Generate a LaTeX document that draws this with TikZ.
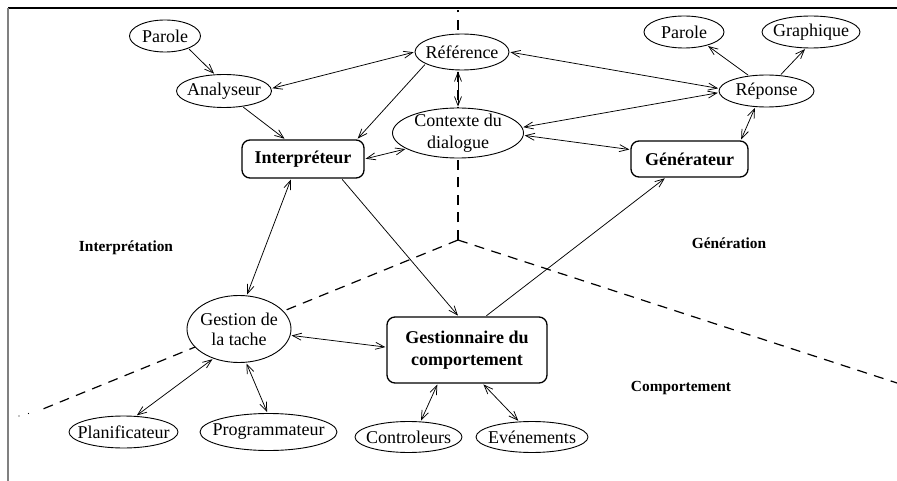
\documentclass[tikz,border=0pt]{standalone}
\usepackage{fontspec}
\setmainfont{Liberation Serif}
\usetikzlibrary{shapes.geometric,arrows.meta}

\begin{document}
\begin{tikzpicture}[x=1pt,y=-1pt,
  oval/.style={ellipse,draw,line width=0.9pt,fill=white,
    inner xsep=-15pt,inner ysep=-5pt,align=center,
    font=\fontsize{18}{22}\selectfont},
  module/.style={rectangle,rounded corners=8pt,draw,line width=1.3pt,fill=white,
    inner sep=0pt,align=center,font=\fontsize{18}{22}\selectfont\bfseries},
  zone/.style={font=\fontsize{15.4}{18}\selectfont\bfseries},
  link/.style={line width=0.75pt,shorten >=1pt,shorten <=1pt},
  >={Straight Barb[length=9pt,width=7pt]},
  border/.style={dash pattern=on 10pt off 7.5pt,line width=1.2pt}
]
\useasboundingbox (0,0) rectangle (897,481);

% frame edges
\draw[line width=1.2pt] (8,8) -- (897,8);
\draw[gray,line width=2pt] (8,8) -- (8,481);

% borders between the three zones
\coordinate (apex) at (458,240);
\coordinate (topend) at (458,10);
\coordinate (leftend) at (38,411);
\coordinate (rightend) at (897,383);
\draw[border] (apex) -- (topend);
\draw[border] (apex) -- (leftend);
\draw[border] (apex) -- (rightend);
\fill (28.5,413.5) circle (0.7pt);
\fill (19,416) circle (0.7pt);

% zone names
\node[zone] (zint) at (126,248) {Interprétation};
\node[zone] (zgen) at (729,243) {Génération};
\node[zone] (zcomp) at (681,388) {Comportement};

% interpretation side
\node[oval,minimum width=71pt,minimum height=32pt] (par1) at (165,36) {Parole};
\node[oval,minimum width=95pt,minimum height=33pt] (ana) at (224,91) {Analyseur};
\node[oval,minimum width=94pt,minimum height=36pt] (ref) at (462,52) {Référence};
\node[oval,minimum width=131pt,minimum height=50pt] (ctx) at (458,133) {Contexte du\\dialogue};
\node[module,minimum width=122pt,minimum height=38pt] (interp) at (303,159) {Interpréteur};

% generation side
\node[oval,minimum width=80pt,minimum height=32pt] (par2) at (684,32) {Parole};
\node[oval,minimum width=98pt,minimum height=32pt] (graph) at (811,32) {Graphique};
\node[oval,minimum width=95pt,minimum height=32pt] (rep) at (766.5,91) {Réponse};
\node[module,minimum width=117pt,minimum height=36pt] (gen) at (689.5,159) {Générateur};

% behaviour side
\node[oval,minimum width=104pt,minimum height=67pt,
      font=\fontsize{18}{20}\selectfont] (gtache) at (239,329) {Gestion de\\la tache};
\node[module,minimum width=160pt,minimum height=66pt] (gcomp) at (467,350) {Gestionnaire du\\comportement};
\node[oval,minimum width=109pt,minimum height=32pt] (plan) at (123.5,432) {Planificateur};
\node[oval,minimum width=137pt,minimum height=37pt] (prog) at (268.5,432) {Programmateur};
\node[oval,minimum width=107pt,minimum height=31pt] (ctrl) at (408.5,437) {Controleurs};
\node[oval,minimum width=112pt,minimum height=31pt] (evt) at (532,437) {Evénements};

% connectors
\draw[link,->] (par1.332) -- (ana.119);
\draw[link,<->] (ana.3) -- (ref.west);
\draw[link,->] (ana.320) -- (interp.132);
\draw[link,->] (ref.198) -- (interp.20);
\draw[link,<->] (interp.east) -- (ctx.197);
\draw[link,<->] (ctx.north |- ref.south) -- (ctx.north);
\draw[link,<->] (ref.east) -- (rep.177);
\draw[link,<->] (ctx.5) -- (rep.182);
\draw[link,<->] (ctx.358) -- (gen.171);
\draw[link,->] (rep.139) -- (par2.330);
\draw[link,->] (rep.49) -- (graph.252);
\draw[link,<->] (gen.20) -- (rep.235);
\draw[link,->] (interp.333) -- (gcomp.104);
\draw[link,->] (gcomp.61) -- (gen.218);
\draw[link,<->] (interp.239) -- (gtache.77);
\draw[link,<->] (gtache.353) -- (gcomp.178);
\draw[link,<->] (gtache.229) -- (plan.52);
\draw[link,<->] (gtache.282) -- (prog.93);
\draw[link,<->] (gcomp.229) -- (ctrl.52);
\draw[link,<->] (gcomp.295) -- (evt.130);
\end{tikzpicture}
\end{document}
